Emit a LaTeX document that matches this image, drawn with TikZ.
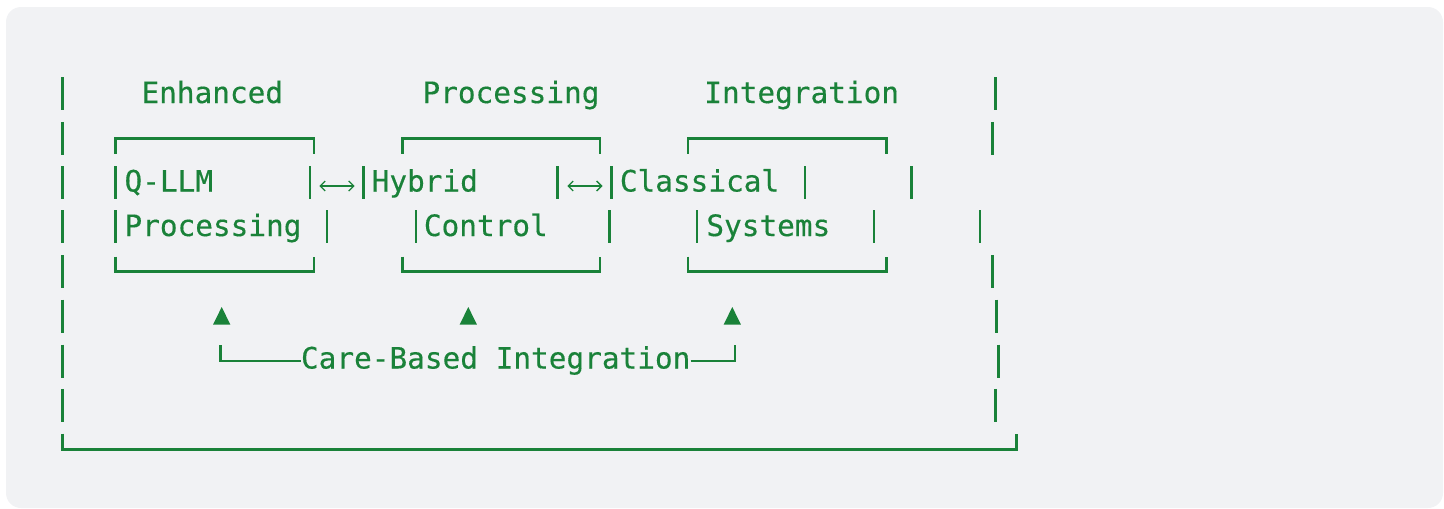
\documentclass[tikz,border=0pt]{standalone}
\usepackage{fontspec}
\newfontfamily\monofam[FakeBold=0.35]{DejaVu Sans Mono}
\usetikzlibrary{arrows.meta}
\definecolor{grn}{HTML}{1A8239}
\definecolor{bgc}{HTML}{F1F2F4}
\tikzset{
  txt/.style={font=\monofam\fontsize{29.4}{35}\selectfont, text=grn, inner sep=0pt, anchor=base},
  barline/.style={draw=grn, line width=2.6pt},
  boxline/.style={draw=grn, line width=2.6pt, line join=miter},
  dblarrow/.style={draw=grn, line width=1.3pt, {Straight Barb[length=5pt,width=10pt]}-{Straight Barb[length=5pt,width=10pt]}},
  tri/.style={fill=grn}
}
\begin{document}
\begin{tikzpicture}[x=1pt,y=-1pt]
\useasboundingbox (0,0) rectangle (1444,509);
\fill[bgc, rounded corners=15pt] (6,7) rectangle (1443,508);

% vertical bars (x / row centre)
\foreach \x/\r in {62.7/93.8, 995.3/93.8,
                   62.7/138.3, 992.7/138.3,
                   62.7/182.5, 115.5/182.5, 309.8/182.5, 363.3/182.5, 557.3/182.5, 611.4/182.5, 805/182.5, 911.5/182.5,
                   62.7/226.8, 115.5/226.8, 327/226.8, 416/226.8, 609.3/226.8, 697/226.8, 874/226.8, 980/226.8,
                   62.7/271.7, 992.7/271.7,
                   62.7/316.2, 996.3/316.2,
                   62.7/361, 998.7/361,
                   62.7/405.3, 995.3/405.3}
  \draw[barline] ({\x},{\r-16.5}) -- ({\x},{\r+16.5});

% boxes
\foreach \a/\b in {115.7/314, 402.3/600, 688/886.7}{
  \draw[boxline] (\a,153.5) -- (\a,138.5) -- (\b,138.5) -- (\b,153.5);
  \draw[boxline] (\a,256.5) -- (\a,271.7) -- (\b,271.7) -- (\b,256.5);
}

% outer bottom
\coordinate (obl) at (62.7,433.5);
\coordinate (obr) at (1016.7,433.5);
\draw[boxline] (obl) -- (62.7,449.5) -- (1016.7,449.5) -- (obr);

% text
\node[txt] (enh) at (212.3,103) {Enhanced};
\node[txt] (proc) at (511,103) {Processing};
\node[txt] (integ) at (801.7,103) {Integration};
\node[txt] (qllm) at (168.8,191.5) {Q-LLM};
\node[txt] (hyb) at (424.8,191.5) {Hybrid};
\node[txt] (cls) at (699.5,191.5) {Classical};
\node[txt] (procb) at (213,236) {Processing};
\node[txt] (ctl) at (485.8,236) {Control};
\node[txt] (sys) at (768.3,236) {Systems};
\node[txt] (care) at (495.7,368.5) {Care-Based Integration};

% double arrows
\coordinate (a1l) at (319.3,186); \coordinate (a1r) at (354.6,186);
\coordinate (a2l) at (567.3,186); \coordinate (a2r) at (602.5,186);
\draw[dblarrow] (a1l) -- (a1r);
\draw[dblarrow] (a2l) -- (a2r);

% triangles
\foreach \c in {221.7, 468.3, 732.3}
  \fill[tri] ({\c-8.6},324.5) -- ({\c+8.6},324.5) -- (\c,307) -- cycle;

% care-based bracket
\coordinate (bl) at (220.7,345);
\coordinate (br) at (735,345);
\draw[boxline] (bl) -- (220.7,360.8) -- (care.west |- 0,360.8);
\draw[boxline] (care.east |- 0,360.8) -- (735,360.8) -- (br);
\end{tikzpicture}
\end{document}
